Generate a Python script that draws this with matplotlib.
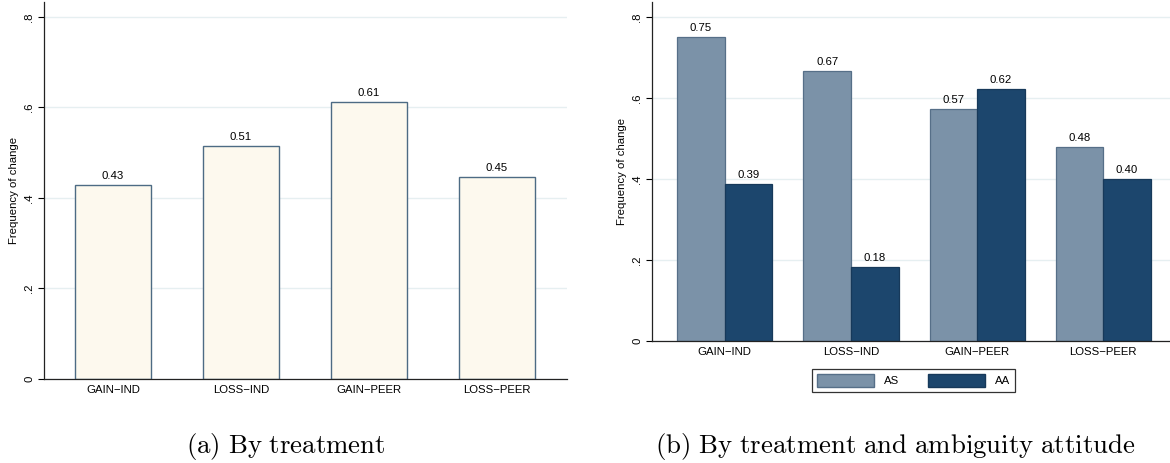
import matplotlib
matplotlib.use("Agg")
import matplotlib.pyplot as plt
import numpy as np
from matplotlib.patches import Patch

plt.rcParams['font.family'] = ['Liberation Sans', 'DejaVu Sans']
plt.rcParams['mathtext.fontset'] = 'cm'

# ---- data ----
treatments = ["GAIN\u2212IND", "LOSS\u2212IND", "GAIN\u2212PEER", "LOSS\u2212PEER"]
freq_all = [0.428, 0.514, 0.611, 0.447]
freq_AS = [0.750, 0.667, 0.573, 0.479]
freq_AA = [0.388, 0.182, 0.621, 0.400]
series_names = ["AS", "AA"]
yticks = [0, 0.2, 0.4, 0.6, 0.8]
yticklabels = ["0", ".2", ".4", ".6", ".8"]
captions = [r"$\mathrm{(a)\ By\ treatment}$",
            r"$\mathrm{(b)\ By\ treatment\ and\ ambiguity\ attitude}$"]

W, H = 1170, 463
fig = plt.figure(figsize=(W / 100, H / 100), dpi=100)

FS = 8.2
grid_c = "#e6eff1"
cream = "#fdf9ee"
cream_edge = "#4d6b84"
c_AS = "#7b92a8"
c_AA = "#1c466d"

def px_axes(x0, y0, x1, y1):
    return fig.add_axes([x0 / W, 1 - y1 / H, (x1 - x0) / W, (y1 - y0) / H])

def style(ax, ylim_top):
    ax.set_ylim(0, ylim_top)
    ax.set_yticks(yticks)
    ax.set_yticklabels(yticklabels, rotation=90, va="center", fontsize=FS)
    ax.tick_params(axis="y", length=4, width=0.8, pad=3)
    ax.tick_params(axis="x", length=0, pad=4, labelsize=FS)
    for s in ["top", "right"]:
        ax.spines[s].set_visible(False)
    for s in ["left", "bottom"]:
        ax.spines[s].set_linewidth(0.9)
        ax.spines[s].set_color("#222222")
    ax.yaxis.grid(True, color=grid_c, linewidth=1.0)
    ax.set_axisbelow(True)
    ax.set_ylabel("Frequency of change", fontsize=FS, labelpad=4)

# ---- panel (a) ----
ax1 = px_axes(44, 2, 567, 379)
x = np.arange(len(treatments))
bars = ax1.bar(x, freq_all, width=0.6, color=cream, edgecolor=cream_edge, linewidth=1.0)
style(ax1, 0.833)
ax1.set_xlim(-0.539, 3.547)
ax1.set_xticks(x)
ax1.set_xticklabels(treatments)
for b, v in zip(bars, freq_all):
    ax1.annotate(f"{v:.2f}", (b.get_x() + b.get_width() / 2, v), xytext=(0, 3),
                 textcoords="offset points", ha="center", va="bottom", fontsize=FS)

# ---- panel (b) ----
ax2 = px_axes(652, 2, 1172, 341)
bw = 0.377
b1 = ax2.bar(x - bw / 2, freq_AS, width=bw, color=c_AS, edgecolor="#566f88", linewidth=0.9)
b2 = ax2.bar(x + bw / 2, freq_AA, width=bw, color=c_AA, edgecolor="#17395a", linewidth=0.9)
style(ax2, 0.837)
ax2.set_xlim(-0.577, 3.545)
ax2.set_xticks(x)
ax2.set_xticklabels(treatments)
for bars_, vals in ((b1, freq_AS), (b2, freq_AA)):
    for b, v in zip(bars_, vals):
        ax2.annotate(f"{v:.2f}", (b.get_x() + b.get_width() / 2, v), xytext=(0, 3),
                     textcoords="offset points", ha="center", va="bottom", fontsize=FS)

handles = [Patch(facecolor=c_AS, edgecolor="#566f88"), Patch(facecolor=c_AA, edgecolor="#17395a")]
leg = fig.legend(handles, series_names, loc="center",
                 bbox_to_anchor=((815 + 1012) / 2 / W, 1 - 380.5 / H),
                 ncol=2, fontsize=FS, frameon=True, fancybox=False,
                 handlelength=5.0, handleheight=1.3, columnspacing=2.5,
                 handletextpad=0.9, borderpad=0.45)
leg.get_frame().set_edgecolor("black")
leg.get_frame().set_linewidth(0.9)

# ---- captions ----
fig.text(286 / W, 1 - 447 / H, captions[0], ha="center", va="center", fontsize=19.3)
fig.text(895 / W, 1 - 447 / H, captions[1], ha="center", va="center", fontsize=19.3)

fig.savefig("out.png", dpi=100, facecolor="white")
